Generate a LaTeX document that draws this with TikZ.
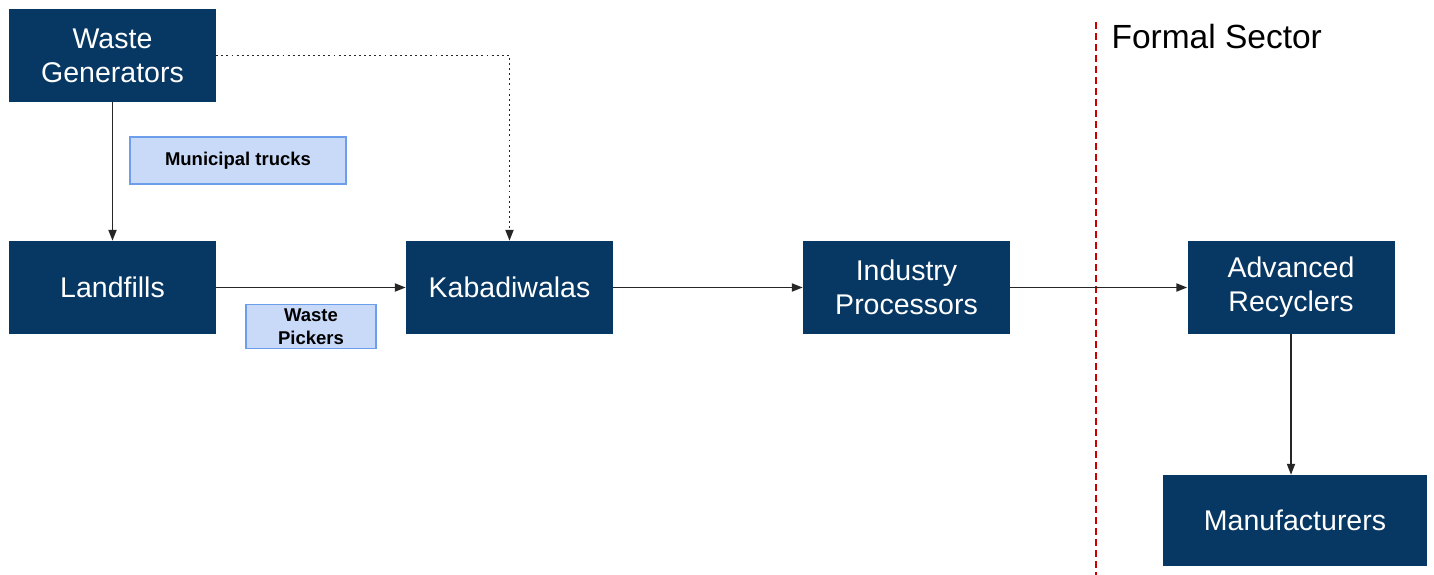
\documentclass[tikz,border=0pt]{standalone}
\usepackage{fontspec}
\setmainfont{Liberation Sans}
\usepackage{xcolor}
\definecolor{boxNavy}{HTML}{073763}
\definecolor{tagFill}{HTML}{C9DAF8}
\definecolor{tagEdge}{HTML}{6D9EEB}
\definecolor{sectorRed}{HTML}{CC0000}
\usepackage{tikz}
\usetikzlibrary{arrows.meta}
\tikzset{
    actor/.style={fill=boxNavy, text=white, align=center, inner sep=0pt,
                  minimum width=207pt, minimum height=93pt,
                  font=\fontsize{28.5}{34}\selectfont},
    tag/.style={fill=tagFill, draw=tagEdge, line width=1.5pt, align=center,
                inner sep=0pt, font=\fontsize{18.5}{23}\selectfont\bfseries},
    flow/.style={draw=black!85, line width=1.9pt, -{Triangle[length=11pt,width=8pt]}},
    sideflow/.style={flow, dash pattern=on 1.9pt off 3.2pt}
}

\begin{document}
\begin{tikzpicture}[x=1pt,y=-1pt]
  % Canvas
  \useasboundingbox (0,0) rectangle (1434,575);

  % Boundary of the formal sector
  \coordinate (secTop) at (1096,22);
  \coordinate (secBot) at (1096,575);
  \draw[sectorRed, line width=1.6pt, dash pattern=on 7pt off 4pt] (secTop) -- (secBot);
  \node[anchor=base west, font=\fontsize{33.5}{40}\selectfont] (sector) at (1108,49) {Formal Sector};

  % Stakeholders
  \node[actor] (gen) at (112.5,55.5)  {Waste\\Generators};
  \node[actor] (land) at (112.5,287.5) {Landfills};
  \node[actor] (kab)  at (509.5,287.5) {Kabadiwalas};
  \node[actor] (ind)  at (906.5,287.5) {Industry\\Processors};
  \node[actor] (adv)  at (1291,287.5)  {Advanced\\Recyclers};
  \node[actor, minimum width=264pt, minimum height=91pt] (man) at (1295,520.5) {Manufacturers};

  % Who carries the waste
  \node[tag, minimum width=216pt, minimum height=47pt] (trucks) at (238,160.5) {Municipal trucks};
  \node[tag, minimum width=130pt, minimum height=44pt] (pickers) at (311,326.5) {Waste\\Pickers};

  % Material flows
  \draw[flow] (gen) -- (land);
  \draw[sideflow] (gen.east) -| (kab.north);
  \draw[flow] (land) -- (kab);
  \draw[flow] (kab) -- (ind);
  \draw[flow] (ind) -- (adv);
  \draw[flow] (adv.south) -- (adv.south |- man.north);

\end{tikzpicture}
\end{document}
